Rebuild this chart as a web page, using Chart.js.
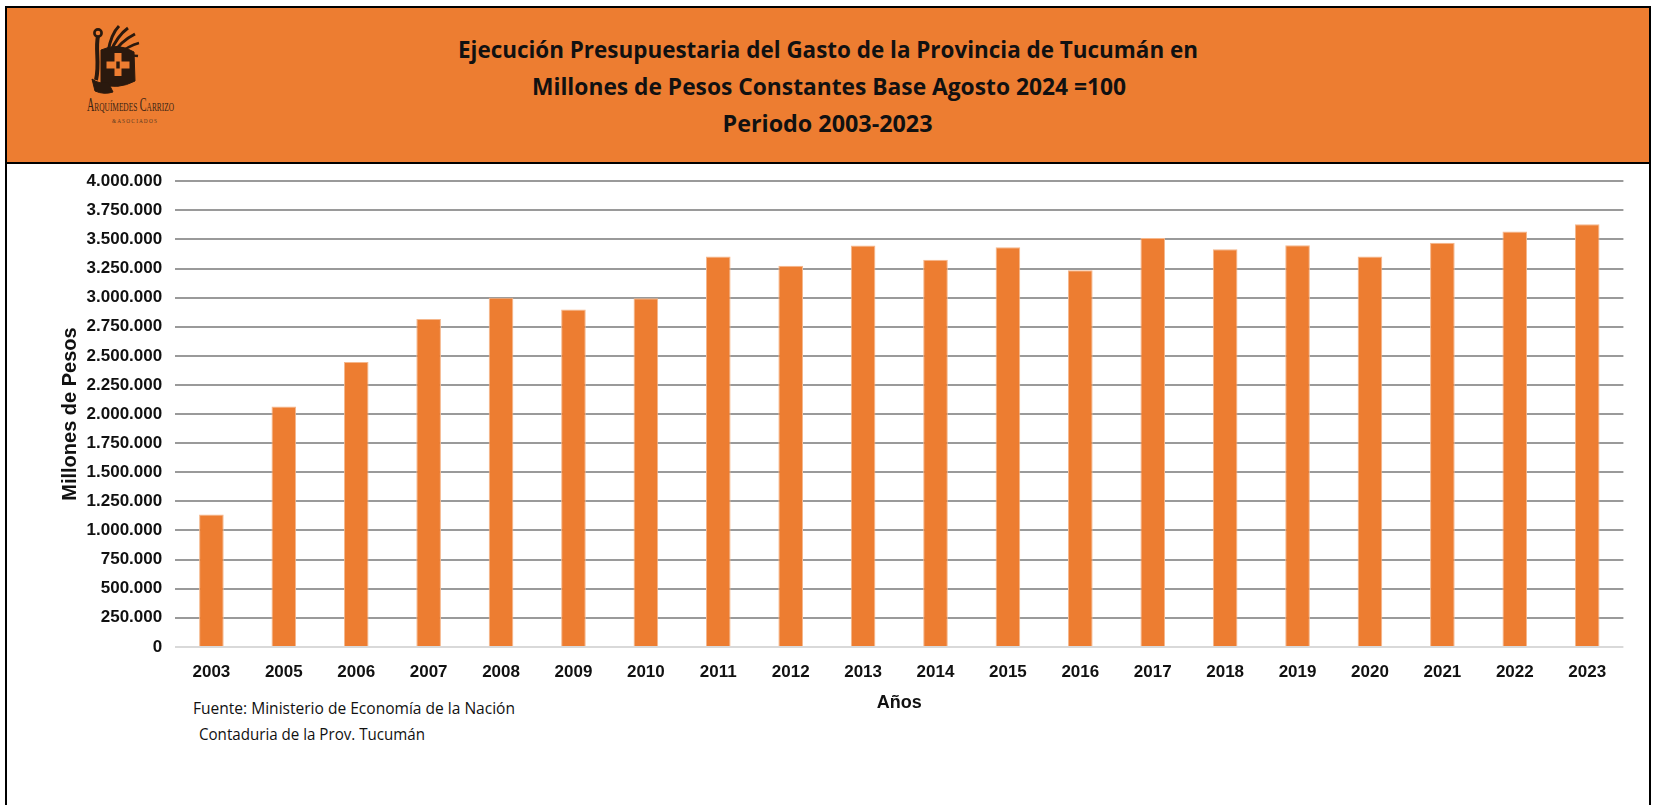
<!DOCTYPE html>
<html>
<head>
<meta charset="utf-8">
<script src="https://cdn.jsdelivr.net/npm/chart.js@4.4.0/dist/chart.umd.min.js"></script>
<style>
html,body{margin:0;padding:0;background:#fff;width:1658px;height:805px;overflow:hidden;position:relative;}
#frame{position:absolute;left:5px;top:6px;width:1642px;height:840px;border:2px solid #000;box-sizing:content-box;}
#header{position:absolute;left:0;top:0;width:1642px;height:154px;background:#ED7D31;border-bottom:2px solid #000;}
#deco{position:absolute;left:0;top:0;width:1658px;height:805px;}
#chartbox{position:absolute;left:0;top:157.8px;width:1658px;height:567.2px;}
</style>
</head>
<body>
<div id="frame"><div id="header"></div></div>
<svg id="deco" width="1658" height="805" xmlns="http://www.w3.org/2000/svg">
  <!-- logo emblem -->
  <g fill="#2a190e" stroke="#2a190e">
    <circle cx="98" cy="33" r="3.6" fill="none" stroke-width="2.6"/>
    <path d="M98 36 C 95 50, 100 62, 96 80" fill="none" stroke-width="4"/>
    <path d="M108 52 C 110 40, 114 31, 119 26" fill="none" stroke-width="3"/>
    <path d="M110 53 C 115 41, 121 33, 128 28" fill="none" stroke-width="3"/>
    <path d="M112 55 C 119 44, 127 38, 135 34" fill="none" stroke-width="3"/>
    <path d="M114 57 C 123 50, 130 45, 139 43" fill="none" stroke-width="2.8"/>
    <path d="M115 60 C 124 56, 131 55, 138 56" fill="none" stroke-width="2.4"/>
    <path d="M101 50 Q 118 42 134 52 L 135 81 Q 118 90 101 84 Z" stroke-width="1"/>
    <path d="M92 79 Q 100 85 108 82 L 113 92 Q 104 95 95 91 Z" stroke-width="1"/>
  </g>
  <g fill="#ED7D31">
    <rect x="114.5" y="53" width="7" height="23"/>
    <rect x="106.5" y="61.5" width="23" height="7"/>
    <rect x="116.3" y="61.5" width="3.4" height="7" fill="#2a190e"/>
  </g>
  <text x="87" y="111" textLength="87" lengthAdjust="spacingAndGlyphs" font-family="Liberation Serif, serif" font-size="18" style="font-variant:small-caps" fill="#3a2414">Arquímedes Carrizo</text>
  <text x="112" y="123" textLength="45" lengthAdjust="spacingAndGlyphs" font-family="Liberation Serif, serif" font-size="6.5" fill="#5a3a22">&amp;  A S O C I A D O S</text>
  <!-- title -->
  <g font-family="Liberation Sans Narrow, Open Sans, sans-serif" font-weight="bold" font-size="24" fill="#111" text-anchor="middle">
    <text x="828" y="58" textLength="740" lengthAdjust="spacingAndGlyphs">Ejecución Presupuestaria del Gasto de la Provincia de Tucumán en</text>
    <text x="829" y="95" textLength="594" lengthAdjust="spacingAndGlyphs">Millones de Pesos Constantes Base Agosto 2024 =100</text>
    <text x="827.5" y="132" textLength="210" lengthAdjust="spacingAndGlyphs">Periodo 2003-2023</text>
  </g>
  <!-- footer -->
  <g font-family="Liberation Sans Narrow, Open Sans, sans-serif" font-size="16" fill="#111">
    <text x="193" y="714" textLength="322" lengthAdjust="spacingAndGlyphs">Fuente: Ministerio de Economía de la Nación</text>
    <text x="199" y="740" textLength="226" lengthAdjust="spacingAndGlyphs">Contaduria de la Prov. Tucumán</text>
  </g>
</svg>
<div id="chartbox"><canvas id="c"></canvas></div>
<script>
// ---- data ----
const years = ['2003','2005','2006','2007','2008','2009','2010','2011','2012','2013','2014','2015','2016','2017','2018','2019','2020','2021','2022','2023'];
const gasto = [1138000, 2064000, 2446000, 2816000, 3000000, 2897000, 2994000, 3354000, 3273000, 3448000, 3325000, 3433000, 3235000, 3512000, 3415000, 3450000, 3354000, 3471000, 3568000, 3631000];
const yMin = 0;
const yMax = 4000000;
const yStep = 250000;
const yTitle = 'Millones de Pesos';
const xTitle = 'Años';

function fmt(v){ return String(v).replace(/\B(?=(\d{3})+(?!\d))/g, '.'); }

new Chart(document.getElementById('c'), {
  type: 'bar',
  data: {
    labels: years,
    datasets: [{
      data: gasto,
      backgroundColor: '#ED7D31',
      borderColor: '#F5B78C',
      borderWidth: 1,
      barPercentage: 0.34,
      categoryPercentage: 1.0
    }]
  },
  options: {
    responsive: true,
    maintainAspectRatio: false,
    animation: false,
    layout: { padding: { left: 0, right: 34.6, top: 0, bottom: 8.3 } },
    plugins: { legend: { display: false }, tooltip: { enabled: false }, title: { display: false } },
    scales: {
      x: {
        grid: { display: false },
        border: { display: false },
        ticks: {
          color: '#111', padding: 7.3, maxRotation: 0, autoSkip: false,
          font: { family: 'Liberation Sans, Arial, sans-serif', size: 17, weight: 'bold' }
        },
        title: {
          display: true, text: xTitle, color: '#111',
          padding: { top: 0, bottom: 3.4 },
          font: { family: 'Liberation Sans, Arial, sans-serif', size: 18, weight: 'bold' }
        },
        afterFit: (s) => { s.height = 70; }
      },
      y: {
        min: yMin, max: yMax,
        grid: {
          drawTicks: false,
          lineWidth: 2,
          color: (ctx) => (ctx.tick && ctx.tick.value === 0) ? '#d9d9d9' : '#9a9a9a'
        },
        border: { display: false },
        ticks: {
          stepSize: yStep, autoSkip: false, padding: 13, color: '#111',
          font: { family: 'Liberation Sans, Arial, sans-serif', size: 17, weight: 'bold' },
          callback: (v) => fmt(v)
        },
        title: {
          display: true, text: yTitle, color: '#111',
          padding: { top: 58, bottom: 0 },
          font: { family: 'Liberation Sans, Arial, sans-serif', size: 20, weight: 'bold' }
        },
        afterFit: (s) => { s.width = 175.2; }
      }
    }
  }
});
</script>
</body>
</html>
